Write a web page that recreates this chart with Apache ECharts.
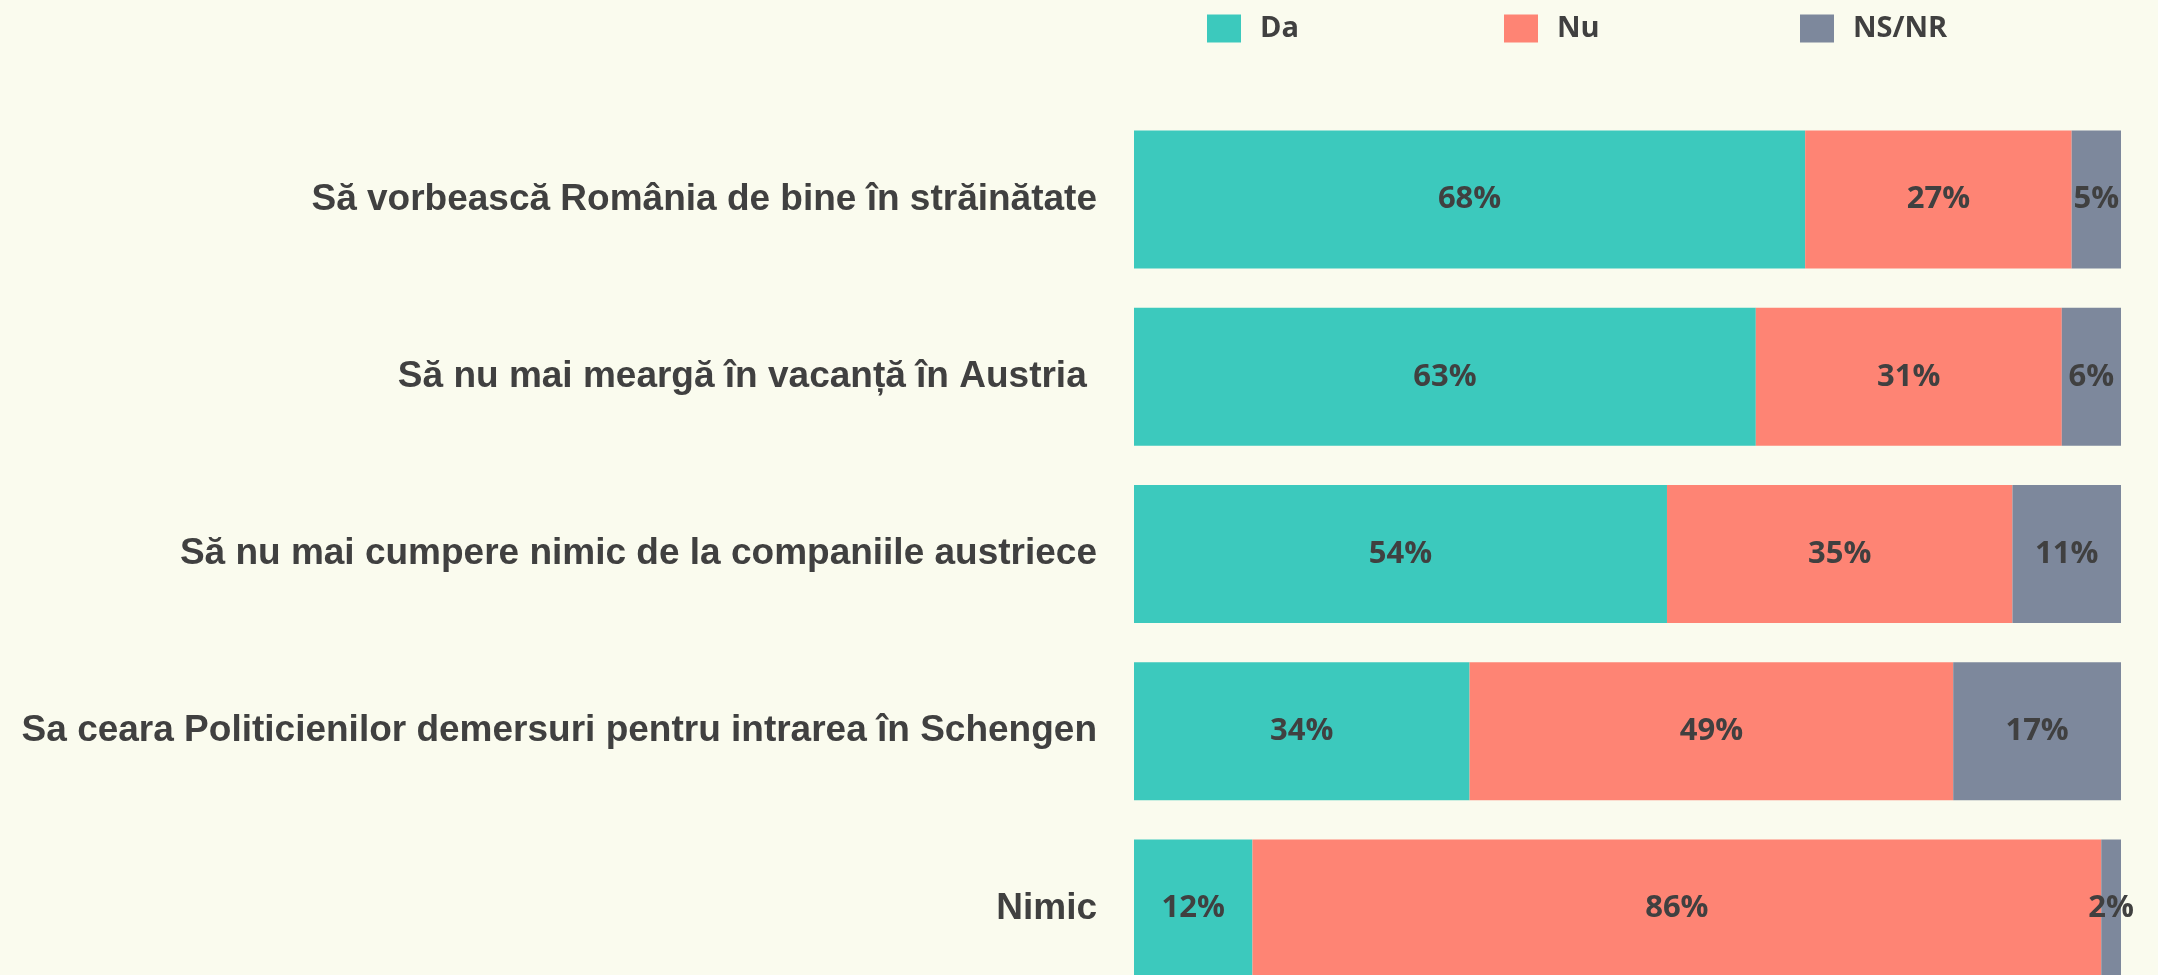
<!DOCTYPE html>
<html>
<head>
<meta charset="utf-8">
<script src="https://cdn.jsdelivr.net/npm/echarts@6/dist/echarts.min.js"></script>
<style>
  html, body { margin: 0; padding: 0; background: #fafbee; overflow: hidden; }
  #chart { width: 2158px; height: 997px; }
</style>
</head>
<body>
<div id="chart"></div>
<script>
// categories from top to bottom
const categories = [
  'Să vorbească România de bine în străinătate',
  'Să nu mai meargă în vacanță în Austria ',
  'Să nu mai cumpere nimic de la companiile austriece',
  'Sa ceara Politicienilor demersuri pentru intrarea în Schengen',
  'Nimic'
];
const seriesNames = ['Da', 'Nu', 'NS/NR'];
const daValues = [68, 63, 54, 34, 12];
const nuValues = [27, 31, 35, 49, 86];
const nsValues = [5, 6, 11, 17, 2];

const colors = ['#3cc9bd', '#fe8474', '#7d889c'];
const legendLefts = [1202, 1499, 1795];

// the last bar runs past the bottom edge, so the chart is a bit taller than the window
const chart = echarts.init(document.getElementById('chart'));

const labelStyle = {
  show: true,
  position: 'inside',
  formatter: '{c}%',
  color: '#404040',
  fontFamily: 'Open Sans',
  fontWeight: 'bold',
  fontSize: 31
};

const option = {
  backgroundColor: '#fafbee',
  animation: false,
  legend: seriesNames.map((n, i) => ({
    data: [n],
    left: legendLefts[i],
    top: 9,
    itemWidth: 34,
    itemHeight: 28,
    itemGap: 0,
    icon: 'rect',
    textStyle: {
      color: '#404040',
      fontFamily: 'Open Sans',
      fontWeight: 'bold',
      fontSize: 29,
      padding: [0, 0, 0, 14]
    }
  })),
  grid: {
    left: 1134,
    right: 37,
    top: 111,
    bottom: 0,
    containLabel: false
  },
  xAxis: {
    type: 'value',
    min: 0,
    max: 100,
    show: false
  },
  yAxis: {
    type: 'category',
    inverse: true,
    data: categories,
    axisLine: { show: false },
    axisTick: { show: false },
    axisLabel: {
      margin: 37,
      color: '#404040',
      fontFamily: 'Liberation Sans',
      fontWeight: 'bold',
      fontSize: 37
    }
  },
  series: [
    { name: 'Da', type: 'bar', stack: 'total', data: daValues },
    { name: 'Nu', type: 'bar', stack: 'total', data: nuValues },
    { name: 'NS/NR', type: 'bar', stack: 'total', data: nsValues }
  ].map((s, i) => Object.assign(s, {
    barWidth: 138,
    itemStyle: { color: colors[i] },
    label: labelStyle
  }))
};

chart.setOption(option);
</script>
</body>
</html>
